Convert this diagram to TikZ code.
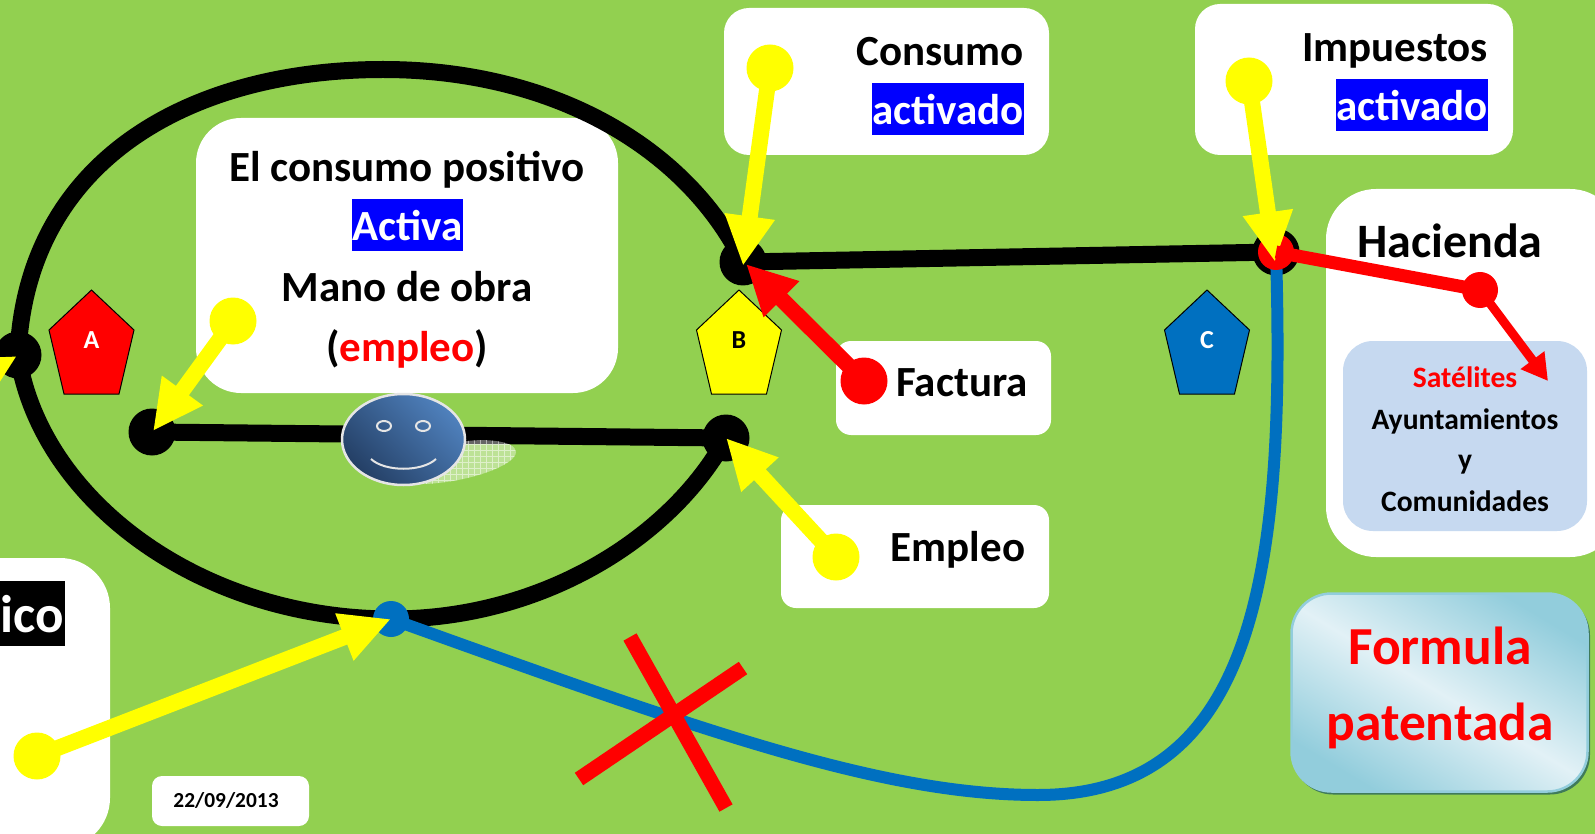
\documentclass[tikz,border=0pt]{standalone}
\usepackage{fontspec}
\setmainfont{Carlito}
\usetikzlibrary{arrows.meta,shapes.geometric}
\definecolor{fondo}{HTML}{92D050}
\definecolor{azul}{HTML}{0070C0}
\definecolor{celeste}{HTML}{C6D9F0}
\definecolor{borde}{HTML}{92CDDC}
\definecolor{claro}{HTML}{E2F1F6}
\definecolor{carauno}{HTML}{4F81BD}
\definecolor{carados}{HTML}{243F65}
\definecolor{amarillo}{HTML}{FFFF00}
\definecolor{rojo}{HTML}{FF0000}
\definecolor{sombrita}{HTML}{3F7A5A}

\begin{document}
\begin{tikzpicture}[x=1pt,y=-1pt]
  \tikzset{
    caja/.style={draw=none, fill=white, rounded corners=#1, inner sep=0pt},
    caja/.default=25pt,
    txt/.style={font=\bfseries\fontsize{#1}{#1}\selectfont, inner sep=0pt, anchor=center},
    txt/.default=43,
    marca/.style={fill=blue, text=white, inner sep=0pt, minimum height=52pt, text height=38pt, text depth=6pt, font=\bfseries\fontsize{43}{43}\selectfont},
    punto/.style={circle, fill=#1, inner sep=0pt, minimum size=47pt},
    via/.style={line width=17pt, draw=black},
    flecha/.style={line width=16pt, draw=#1, -{Triangle[length=50pt,width=47pt,fill=#1]}},
    penta/.style={draw=black, line width=1pt, fill=#1}
  }
  \useasboundingbox (0,0) rectangle (1595,834);
  \clip (0,0) rectangle (1595,834);
  \fill[fondo] (0,0) rectangle (1595,834);

  % Cajas blancas
  \node[caja, minimum width=325pt, minimum height=147pt] (cajaConsumo) at (886.5,81.5) {};
  \node[caja, minimum width=318pt, minimum height=151pt] (cajaImpuestos) at (1354,79.5) {};
  \node[caja=50pt, minimum width=294pt, minimum height=368pt] (cajaHacienda) at (1473,373) {};
  \node[caja=45pt, minimum width=422pt, minimum height=275pt] (cajaPositivo) at (407,255.5) {};
  \node[caja=15pt, minimum width=215pt, minimum height=94pt] (cajaFactura) at (943.5,388) {};
  \node[caja=15pt, minimum width=268pt, minimum height=103pt] (cajaEmpleo) at (915,556.5) {};
  \node[caja=50pt, minimum width=250pt, minimum height=290pt] (cajaIco) at (-15,703) {};
  \node[caja=10pt, minimum width=157pt, minimum height=50pt] (cajaFecha) at (230.5,801) {};
  \node[caja=30pt, fill=celeste, minimum width=244pt, minimum height=190pt] (cajaSatelites) at (1465,436) {};

  % Caja de la formula
  \node[rounded corners=40pt, fill=sombrita, minimum width=297pt, minimum height=199pt] (sombra) at (1441.5,695) {};
  \node[rounded corners=40pt, draw=borde, line width=2.5pt, top color=borde, bottom color=borde, middle color=claro, shading angle=-31, minimum width=296pt, minimum height=198pt] (cajaFormula) at (1439.5,692.5) {};

  % Puntos de la red
  \node[punto=black] (puntoA) at (18,355) {};
  \node[punto=black] (puntoB) at (743,262) {};
  \node[punto=black] (puntoEntrada) at (152,432) {};
  \node[punto=black] (puntoSalida) at (726,438) {};
  \node[punto=black] (puntoC) at (1276,252) {};

  % Circuito
  \draw[via] (puntoA.center) .. controls (26,160) and (190,69.5) .. (383,69.5) .. controls (550,69.5) and (685,145) .. (puntoB.center);
  \draw[via] (puntoA.center) .. controls (40,500) and (200,619) .. (392,619) .. controls (540,619) and (670,540) .. (puntoSalida.center);
  \draw[via] (puntoB.center) -- (puntoC.center);
  \draw[via] (puntoEntrada.center) -- (puntoSalida.center);
  \node[punto=azul, minimum size=36pt] (puntoAzul) at (391,619) {};
  \draw[azul, line width=12pt] (puntoC.center) .. controls (1285,560) and (1260,795) .. (1038,795) .. controls (880,795) and (700,730) .. (puntoAzul.center);
  \node[punto=rojo, minimum size=36pt] (puntoRojo) at (1276,252) {};

  % Pentagonos
  \foreach \nombre/\cx/\col/\letra in {A/91.5/rojo/white, B/739/amarillo/black, C/1207/azul/white}{
    \draw[penta=\col] (\cx,290) -- ++(42.5,40) -- ++(-15,64) -- ++(-55,0) -- ++(-15,-64) -- cycle;
    \node[txt=26, text=\letra] (letra\nombre) at (\cx,340) {\nombre};
  }

  % Carita
  \begin{scope}
    \clip (425,484) .. controls (470,482) and (516,465) .. (516,452) .. controls (516,440) and (480,438) .. (462,442) -- cycle;
    \fill[white, opacity=.4] (420,435) rectangle (520,490);
    \draw[white, opacity=.5, line width=.5pt, step=6pt] (420,435) grid (520,490);
  \end{scope}
  \node[ellipse, draw=white!90!black, line width=2.5pt, inner sep=0pt, minimum width=123pt, minimum height=91pt, top color=carauno, bottom color=carados, shading angle=-45] (carita) at (403.5,439.5) {};
  \node[ellipse, draw=white!90!black, line width=2pt, inner sep=0pt, minimum width=14pt, minimum height=10pt] (ojoA) at (384,426) {};
  \node[ellipse, draw=white!90!black, line width=2pt, inner sep=0pt, minimum width=14pt, minimum height=10pt] (ojoB) at (423,426) {};
  \draw[white!90!black, line width=2pt] (371,459) .. controls (385,472) and (422,472) .. (436,459);

  % Aspa
  \coordinate (aspaA) at (630,637);
  \coordinate (aspaB) at (726,808);
  \coordinate (aspaC) at (579,779);
  \coordinate (aspaD) at (743,668);
  \draw[rojo, line width=15pt] (aspaA) -- (aspaB);
  \draw[rojo, line width=15pt] (aspaC) -- (aspaD);

  % Flechas
  \node[punto=amarillo] (dotConsumo) at (770,68) {};
  \node[punto=amarillo] (dotImpuestos) at (1249,81) {};
  \node[punto=amarillo] (dotPositivo) at (233,321) {};
  \node[punto=amarillo] (dotEmpleo) at (836,557) {};
  \node[punto=amarillo] (dotIco) at (37,756) {};
  \node[punto=rojo] (dotFactura) at (864,381) {};
  \node[punto=rojo, minimum size=36pt] (dotHacienda) at (1480,290) {};
  \coordinate (tipB) at (743,266);
  \coordinate (tipC) at (1275,262);
  \coordinate (tipE) at (153,431);
  \coordinate (tipS) at (726,438);
  \coordinate (tipF) at (746,264);
  \coordinate (tipA) at (17,356);
  \coordinate (fueraA) at (-65,403);
  \coordinate (tipSat) at (1548,381);
  \draw[flecha=amarillo] (dotConsumo.center) -- (tipB);
  \draw[flecha=amarillo] (dotImpuestos.center) -- (tipC);
  \draw[flecha=amarillo] (dotPositivo.center) -- (tipE);
  \draw[flecha=amarillo] (dotEmpleo.center) -- (tipS);
  \draw[flecha=amarillo] (dotIco.center) -- (puntoAzul.center);
  \draw[flecha=amarillo] (fueraA) -- (tipA);
  \draw[flecha=rojo] (dotFactura.center) -- (tipF);
  \draw[rojo, line width=13pt] (puntoRojo.center) -- (dotHacienda.center);
  \draw[rojo, line width=9pt, -{Triangle[length=26pt,width=28pt,fill=rojo]}] (dotHacienda.center) -- (tipSat);

  % Textos
  \node[txt, anchor=east] (tConsumo) at (1024,52) {Consumo};
  \node[marca, minimum width=152pt] (mConsumo) at (948,109) {activado};
  \node[txt, anchor=east] (tImpuestos) at (1488,50.5) {Impuestos};
  \node[marca, minimum width=152pt] (mImpuestos) at (1412,105) {activado};
  \node[txt] (tPositivo) at (407,170) {El consumo positivo};
  \node[marca, minimum width=111pt] (mActiva) at (407.5,225) {Activa};
  \node[txt] (tMano) at (407,287) {Mano de obra};
  \node[txt] (tEmpleo) at (407,349) {(\textcolor{rojo}{empleo})};
  \node[txt] (tFactura) at (962,383) {Factura};
  \node[txt] (tEmpleoB) at (958,550) {Empleo};
  \node[txt=48] (tHacienda) at (1450,241) {Hacienda};
  \node[txt=29.6, text=rojo] (tSatelites) at (1465,377) {Satélites};
  \node[txt=29.6] (tAyuntamientos) at (1465,421) {Ayuntamientos};
  \node[txt=29.6] (tY) at (1465,465) {y};
  \node[txt=29.6] (tComunidades) at (1465,501) {Comunidades};
  \node[txt=53.5, text=rojo] (tFormula) at (1440,646) {Formula};
  \node[txt=53.5, text=rojo] (tPatentada) at (1440,726) {patentada};
  \fill[black] (-10,581) rectangle (65,646);
  \node[txt=53, text=white, anchor=east] (tIco) at (64,614) {ico};
  \node[txt=21.4] (tFecha) at (226,800) {22/09/2013};
\end{tikzpicture}
\end{document}
